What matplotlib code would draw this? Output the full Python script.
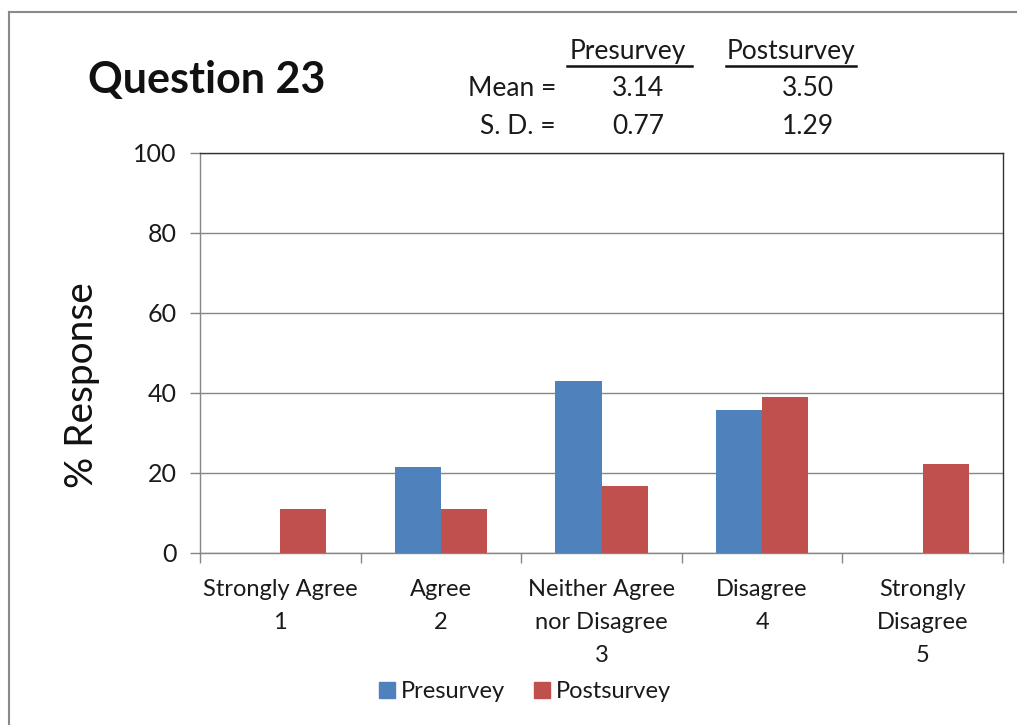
import matplotlib
matplotlib.use("Agg")
import matplotlib.pyplot as plt
import numpy as np
from matplotlib.lines import Line2D
from matplotlib.patches import Patch

plt.rcParams['font.family'] = ['Lato', 'DejaVu Sans']

categories = ["Strongly Agree\n1", "Agree\n2", "Neither Agree\nnor Disagree\n3",
              "Disagree\n4", "Strongly\nDisagree\n5"]
presurvey = [0.0, 21.4, 42.9, 35.7, 0.0]
postsurvey = [11.1, 11.1, 16.7, 38.9, 22.2]
series_names = ["Presurvey", "Postsurvey"]
means = ["3.14", "3.50"]
sds = ["0.77", "1.29"]
yticks = [0, 20, 40, 60, 80, 100]

blue = "#4F81BD"
red = "#C0504D"
grid_gray = "#868686"
text_col = "#1a1a1a"

W, H = 1017, 725
fig = plt.figure(figsize=(W / 100, H / 100), dpi=100)

def fx(px):
    return px / W

def fy(py):
    return 1 - py / H

ax = fig.add_axes([fx(200), fy(553), fx(1003) - fx(200), fy(153) - fy(553)])

x = np.arange(len(categories))
bw = 0.287
ax.bar(x - bw / 2, presurvey, width=bw, color=blue, zorder=3)
ax.bar(x + bw / 2, postsurvey, width=bw, color=red, zorder=3)

ax.set_xlim(-0.5, len(categories) - 0.5)
ax.set_ylim(0, 100)
ax.set_yticks(yticks)
ax.yaxis.grid(True, color=grid_gray, linewidth=1.0, zorder=0)
ax.set_axisbelow(True)

ax.set_xticks(x)
ax.set_xticklabels(categories, fontsize=17, color=text_col, linespacing=1.7)
ax.set_xticks(np.arange(len(categories) + 1) - 0.5, minor=True)
ax.tick_params(axis="x", which="major", length=0, pad=19)
ax.tick_params(axis="x", which="minor", length=7, color=grid_gray, width=1)
ax.tick_params(axis="y", length=7, color=grid_gray, width=1, labelsize=18,
               labelcolor=text_col, pad=10)

for side in ["left", "bottom"]:
    ax.spines[side].set_color(grid_gray)
for side in ["top", "right"]:
    ax.spines[side].set_color("#333333")
for s in ax.spines.values():
    s.set_linewidth(1.0)

ax.set_ylabel("% Response", fontsize=28, color="#111111")
ax.yaxis.set_label_coords(fx(73) - fx(200), (fy(385) - fy(553)) / (fy(153) - fy(553)))

# Title
fig.text(fx(88), fy(80), "Question 23", fontsize=31, fontweight="bold",
         ha="left", va="center", color="#111111")

# Summary statistics block
stat_fs = 19
col_x = [fx(628), fx(791)]
for cx, name in zip(col_x, series_names):
    fig.text(cx, fy(51), name, fontsize=stat_fs, ha="center", va="center", color=text_col)
fig.add_artist(Line2D([fx(567), fx(692)], [fy(66), fy(66)], color="#111111", lw=1.8))
fig.add_artist(Line2D([fx(726), fx(856)], [fy(66), fy(66)], color="#111111", lw=1.8))

fig.text(fx(556), fy(89), "Mean =", fontsize=stat_fs, ha="right", va="center", color=text_col)
fig.text(fx(556), fy(126), "S. D. =", fontsize=stat_fs, ha="right", va="center", color=text_col)
fig.text(fx(638), fy(89), means[0], fontsize=stat_fs, ha="center", va="center", color=text_col)
fig.text(fx(808), fy(89), means[1], fontsize=stat_fs, ha="center", va="center", color=text_col)
fig.text(fx(638), fy(126), sds[0], fontsize=stat_fs, ha="center", va="center", color=text_col)
fig.text(fx(808), fy(126), sds[1], fontsize=stat_fs, ha="center", va="center", color=text_col)

# Legend
handles = [Patch(color=blue), Patch(color=red)]
fig.legend(handles, series_names, loc="center", bbox_to_anchor=(fx(525), fy(692)),
           ncol=2, frameon=False, fontsize=17, handlelength=0.68, handleheight=0.68,
           handletextpad=0.25, columnspacing=1.25, borderpad=0, borderaxespad=0)
for t in fig.legends[0].get_texts():
    t.set_color(text_col)

# Outer frame (left and top edges)
fig.add_artist(Line2D([fx(9), fx(9)], [fy(12), 0], color="#8a8a8a", lw=1.5))
fig.add_artist(Line2D([fx(9), 1], [fy(12), fy(12)], color="#8a8a8a", lw=1.5))

fig.savefig("out.png", dpi=100, facecolor="white")
